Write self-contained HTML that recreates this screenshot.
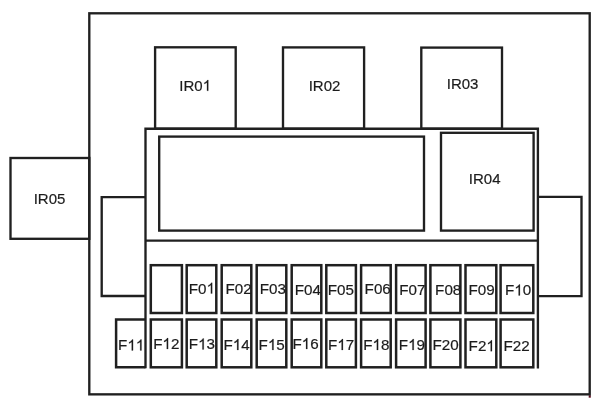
<!DOCTYPE html>
<html><head><meta charset="utf-8"><title>Fuse box</title>
<style>
html,body{margin:0;padding:0;background:#fff;}
body{width:605px;height:410px;overflow:hidden;}
svg{display:block;}
svg rect, svg path{fill:none;stroke:#202020;stroke-width:2.35;}
svg g.fz rect, svg g.fz path{stroke-width:2.5;}
svg text{font-family:"Liberation Sans",sans-serif;font-size:15.0px;fill:#1c1c1c;stroke:#1c1c1c;stroke-width:0.2px;}
svg path.g1{fill:#1c1c1c;stroke:#1c1c1c;stroke-width:27;}
svg g.tf text{font-size:15.2px;}
</style></head><body>
<svg width="605" height="410" viewBox="0 0 605 410">
<rect x="0" y="0" width="605" height="410" style="fill:#fff;stroke:none"/>
<rect x="588.7" y="395.2" width="2.1" height="2.5" style="fill:#5a0f22;stroke:none"/>
<g>
<rect x="89.30" y="13.30" width="500.40" height="381.05"/>
<rect x="10.50" y="158.00" width="78.80" height="80.80"/>
<rect x="155.10" y="47.30" width="80.60" height="81.40"/>
<rect x="283.00" y="47.40" width="81.10" height="81.30"/>
<rect x="421.30" y="47.60" width="80.70" height="81.10"/>
<path d="M145.5 368.3 L145.5 128.7 L537.9 128.7 L537.9 368.5"/>
<rect x="159.20" y="136.60" width="264.80" height="94.00"/>
<rect x="441.00" y="132.80" width="92.60" height="97.80"/>
<path d="M145.5 240.6L537.9 240.6"/>
<path d="M145.5 197.1 L101.7 197.1 L101.7 296 L145.5 296"/>
<path d="M537.9 196.8 L581.5 196.8 L581.5 296.1 L537.9 296.1"/>
</g>
<g class="fz">
<rect x="150.80" y="265.20" width="31.10" height="47.80"/>
<rect x="186.70" y="265.20" width="29.60" height="47.80"/>
<rect x="221.70" y="265.20" width="29.60" height="47.80"/>
<rect x="256.70" y="265.20" width="29.60" height="47.80"/>
<rect x="291.70" y="265.20" width="29.60" height="47.80"/>
<rect x="326.30" y="265.20" width="29.60" height="47.80"/>
<rect x="361.10" y="265.20" width="29.60" height="47.80"/>
<rect x="396.10" y="265.20" width="29.50" height="47.80"/>
<rect x="430.40" y="265.20" width="30.00" height="47.80"/>
<rect x="465.50" y="265.20" width="30.80" height="47.80"/>
<rect x="500.60" y="265.20" width="32.70" height="47.80"/>
<path d="M145.5 319.5 L116.1 319.5 L116.1 367.3 L145.5 367.3"/>
<rect x="150.80" y="319.50" width="31.10" height="47.80"/>
<rect x="186.70" y="319.50" width="29.60" height="47.80"/>
<rect x="221.70" y="319.50" width="29.60" height="47.80"/>
<rect x="256.70" y="319.50" width="29.60" height="47.80"/>
<rect x="291.70" y="319.50" width="29.60" height="47.80"/>
<rect x="326.30" y="319.50" width="29.60" height="47.80"/>
<rect x="361.10" y="319.50" width="29.60" height="47.80"/>
<rect x="396.10" y="319.50" width="29.50" height="47.80"/>
<rect x="430.40" y="319.50" width="30.00" height="47.80"/>
<rect x="465.50" y="319.50" width="30.80" height="47.80"/>
<rect x="500.60" y="319.50" width="32.70" height="47.80"/>
</g>
<g style="filter:grayscale(1)">
<text x="179.36 183.53 194.36" y="90.80">IR0</text>
<path class="g1" transform="translate(202.70 90.80) scale(0.007324 -0.007324)" d="M763 0H583V1147Q518 1085 412.5 1023T223 930V1104Q373 1175 485 1275T644 1469H763Z"/>
<text x="308.66 312.83 323.66 332.00" y="90.70">IR02</text>
<text x="446.76 450.93 461.76 470.10" y="89.40">IR03</text>
<text x="468.86 473.03 483.86 492.20" y="183.70">IR04</text>
<text x="33.66 37.83 48.66 57.00" y="204.00">IR05</text>
</g>
<g class="tf" style="filter:grayscale(1)">
<text x="188.80 198.09" y="293.60">F0</text>
<path class="g1" transform="translate(206.54 293.60) scale(0.007422 -0.007422)" d="M763 0H583V1147Q518 1085 412.5 1023T223 930V1104Q373 1175 485 1275T644 1469H763Z"/>
<text x="225.40 234.69 243.14" y="293.60">F02</text>
<text x="259.80 269.09 277.54" y="293.60">F03</text>
<text x="294.80 304.09 312.54" y="295.00">F04</text>
<text x="327.80 337.09 345.54" y="295.40">F05</text>
<text x="364.60 373.89 382.34" y="294.20">F06</text>
<text x="399.30 408.59 417.04" y="295.40">F07</text>
<text x="435.10 444.39 452.84" y="295.20">F08</text>
<text x="468.50 477.79 486.24" y="295.20">F09</text>
<text x="505.00 522.74" y="295.40">F0</text>
<path class="g1" transform="translate(514.29 295.40) scale(0.007422 -0.007422)" d="M763 0H583V1147Q518 1085 412.5 1023T223 930V1104Q373 1175 485 1275T644 1469H763Z"/>
<text x="118.10" y="350.40">F</text>
<path class="g1" transform="translate(127.39 350.40) scale(0.007422 -0.007422)" d="M763 0H583V1147Q518 1085 412.5 1023T223 930V1104Q373 1175 485 1275T644 1469H763Z"/>
<path class="g1" transform="translate(135.84 350.40) scale(0.007422 -0.007422)" d="M763 0H583V1147Q518 1085 412.5 1023T223 930V1104Q373 1175 485 1275T644 1469H763Z"/>
<text x="153.15 170.89" y="349.00">F2</text>
<path class="g1" transform="translate(162.44 349.00) scale(0.007422 -0.007422)" d="M763 0H583V1147Q518 1085 412.5 1023T223 930V1104Q373 1175 485 1275T644 1469H763Z"/>
<text x="188.80 206.54" y="349.40">F3</text>
<path class="g1" transform="translate(198.09 349.40) scale(0.007422 -0.007422)" d="M763 0H583V1147Q518 1085 412.5 1023T223 930V1104Q373 1175 485 1275T644 1469H763Z"/>
<text x="223.50 241.24" y="350.00">F4</text>
<path class="g1" transform="translate(232.79 350.00) scale(0.007422 -0.007422)" d="M763 0H583V1147Q518 1085 412.5 1023T223 930V1104Q373 1175 485 1275T644 1469H763Z"/>
<text x="258.60 276.34" y="350.00">F5</text>
<path class="g1" transform="translate(267.89 350.00) scale(0.007422 -0.007422)" d="M763 0H583V1147Q518 1085 412.5 1023T223 930V1104Q373 1175 485 1275T644 1469H763Z"/>
<text x="292.40 310.14" y="349.00">F6</text>
<path class="g1" transform="translate(301.69 349.00) scale(0.007422 -0.007422)" d="M763 0H583V1147Q518 1085 412.5 1023T223 930V1104Q373 1175 485 1275T644 1469H763Z"/>
<text x="328.00 345.74" y="350.00">F7</text>
<path class="g1" transform="translate(337.29 350.00) scale(0.007422 -0.007422)" d="M763 0H583V1147Q518 1085 412.5 1023T223 930V1104Q373 1175 485 1275T644 1469H763Z"/>
<text x="363.20 380.94" y="350.00">F8</text>
<path class="g1" transform="translate(372.49 350.00) scale(0.007422 -0.007422)" d="M763 0H583V1147Q518 1085 412.5 1023T223 930V1104Q373 1175 485 1275T644 1469H763Z"/>
<text x="398.80 416.54" y="350.00">F9</text>
<path class="g1" transform="translate(408.09 350.00) scale(0.007422 -0.007422)" d="M763 0H583V1147Q518 1085 412.5 1023T223 930V1104Q373 1175 485 1275T644 1469H763Z"/>
<text x="432.40 441.69 450.14" y="350.00">F20</text>
<text x="468.60 477.89" y="351.20">F2</text>
<path class="g1" transform="translate(486.34 351.20) scale(0.007422 -0.007422)" d="M763 0H583V1147Q518 1085 412.5 1023T223 930V1104Q373 1175 485 1275T644 1469H763Z"/>
<text x="503.50 512.79 521.24" y="351.00">F22</text>
</g>
</svg>
</body></html>
